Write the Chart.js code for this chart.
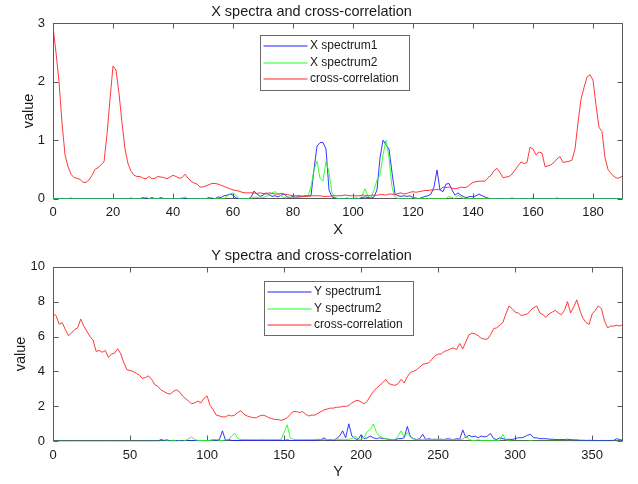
<!DOCTYPE html>
<html>
<head>
<meta charset="utf-8">
<script src="https://cdn.jsdelivr.net/npm/chart.js@4.4.1/dist/chart.umd.min.js"></script>
<style>
  body { margin: 0; background: #fff; }
  .panel { position: absolute; left: 0; width: 638px; height: 242px; }
</style>
</head>
<body>
<div class="panel" style="top:0"><canvas id="chartX" width="638" height="242"></canvas></div>
<div class="panel" style="top:242px"><canvas id="chartY" width="638" height="242"></canvas></div>
<script>
// ---- X subplot, one sample per unit, x = 0..190
const xStep = 1;
const xTicks = [0, 20, 40, 60, 80, 100, 120, 140, 160, 180];
const xValueTicks = [0, 1, 2, 3];
const xSpectrum1 = [
  0,0,0,0,0,0,0.01,0,0,0,
  0,0,0,0,0,0,0,0,0,0,
  0,0,0,0,0,0,0.01,0,0,0,
  0.02,0,0,0.02,0,0,0.02,0,0,0,
  0,0,0,0.01,0,0,0,0,0,0,
  0,0,0.02,0,0,0.03,0.02,0.05,0.06,0.08,
  0.06,0.01,0,0,0,0,0.02,0.13,0.08,0.04,
  0.06,0.1,0.07,0.04,0.05,0.03,0.06,0.08,0.03,0.02,
  0.04,0.02,0.05,0.04,0.05,0.05,0.05,0.5,0.9,0.96,
  0.96,0.85,0.15,0.03,0.01,0,0,0,0.01,0,
  0,0.01,0,0.02,0.03,0.02,0.01,0.03,0.15,0.7,
  1.0,0.92,0.85,0.45,0.08,0.05,0.04,0.05,0.04,0.05,
  0.02,0.01,0,0.02,0.04,0.05,0.08,0.2,0.49,0.15,
  0.12,0.25,0.26,0.15,0.06,0.1,0.06,0.03,0.02,0.04,
  0.03,0.05,0.08,0.05,0.03,0.01,0,0,0,0,
  0,0,0,0.01,0,0,0,0,0,0,
  0.01,0,0,0,0,0,0,0,0.01,0,
  0,0,0,0,0,0,0,0,0,0,
  0,0,0,0,0,0,0,0,0,0,0
];
const xSpectrum2 = [
  0,0,0,0,0,0,0,0,0,0,
  0,0,0,0,0,0,0,0,0,0,
  0,0,0,0,0,0,0,0,0,0,
  0,0.03,0,0,0,0,0,0,0,0,
  0,0,0,0,0.03,0,0,0,0,0,
  0,0,0,0.02,0,0,0,0,0.04,0.08,
  0.1,0.06,0,0,0,0,0,0.03,0.02,0.03,
  0.02,0.04,0.06,0.1,0.12,0.08,0.05,0.02,0.03,0.02,
  0.03,0.02,0.02,0.03,0.04,0.05,0.2,0.5,0.64,0.35,
  0.3,0.64,0.45,0.1,0.02,0,0,0,0,0,
  0,0,0,0.05,0.17,0.04,0.02,0.15,0.32,0.4,
  0.75,1.0,0.7,0.2,0.03,0,0,0,0,0,
  0.02,0,0,0,0,0,0,0,0,0,
  0,0,0.04,0.02,0,0.06,0.03,0,0,0,
  0,0,0,0,0,0,0,0,0,0,
  0,0,0,0,0,0,0,0,0,0,
  0,0,0,0,0,0,0,0,0,0,
  0,0,0,0,0,0,0,0,0,0,
  0,0,0,0,0,0,0,0,0,0,0
];
const xCrossCorr = [
  2.95,2.5,2.0,1.3,0.75,0.55,0.42,0.36,0.35,0.33,
  0.28,0.28,0.32,0.4,0.5,0.53,0.58,0.63,1.1,1.7,
  2.27,2.2,1.8,1.3,0.85,0.6,0.47,0.4,0.38,0.38,
  0.35,0.34,0.38,0.34,0.35,0.38,0.37,0.36,0.34,0.37,
  0.4,0.38,0.35,0.36,0.42,0.35,0.3,0.27,0.25,0.2,
  0.2,0.22,0.24,0.26,0.26,0.25,0.23,0.21,0.19,0.17,
  0.15,0.14,0.13,0.11,0.1,0.1,0.1,0.1,0.09,0.1,
  0.09,0.08,0.1,0.09,0.08,0.08,0.09,0.08,0.07,0.06,
  0.05,0.05,0.05,0.04,0.04,0.04,0.05,0.05,0.05,0.05,
  0.04,0.04,0.04,0.05,0.05,0.05,0.05,0.06,0.06,0.05,
  0.05,0.05,0.05,0.06,0.06,0.05,0.06,0.06,0.06,0.07,
  0.07,0.06,0.08,0.08,0.07,0.09,0.1,0.08,0.09,0.11,
  0.12,0.11,0.12,0.13,0.14,0.14,0.15,0.15,0.16,0.15,
  0.2,0.19,0.2,0.18,0.17,0.18,0.2,0.19,0.2,0.24,
  0.28,0.29,0.3,0.3,0.3,0.36,0.4,0.48,0.52,0.45,
  0.36,0.37,0.38,0.42,0.49,0.56,0.63,0.6,0.62,0.88,
  0.85,0.75,0.8,0.78,0.55,0.56,0.58,0.62,0.68,0.72,
  0.62,0.63,0.64,0.66,0.85,1.3,1.7,1.9,2.08,2.12,
  2.03,1.6,1.22,1.15,0.7,0.5,0.43,0.38,0.35,0.36,0.4
];

// ---- Y subplot, one sample every 2 units, x = 0..370
const yStep = 2;
const yTicks = [0, 50, 100, 150, 200, 250, 300, 350];
const yValueTicks = [0, 2, 4, 6, 8, 10];
const ySpectrum1 = [
  0,0,0,0,0,0,0,0,0,0,
  0,0,0,0,0,0,0,0,0,0,
  0,0,0,0,0,0,0,0,0,0,
  0,0,0,0,0,0.1,0.05,0.08,0.02,0,
  0.03,0.05,0.02,0.04,0.05,0.02,0.05,0.03,0.05,0.04,
  0.02,0.05,0.08,0.05,0.1,0.6,0.05,0.1,0.05,0.05,
  0.05,0.04,0.05,0.06,0.05,0.04,0.05,0.05,0.06,0.05,
  0.05,0.04,0.05,0.05,0.06,0.05,0.08,0.05,0.04,0.05,
  0.05,0.04,0.06,0.05,0.05,0.06,0.08,0.1,0.2,0.05,
  0.1,0.05,0.15,0.3,0.6,0.2,1.0,0.3,0.15,0.1,
  0.38,0.15,0.2,0.3,0.2,0.15,0.2,0.15,0.15,0.1,
  0.1,0.08,0.15,0.15,0.2,0.85,0.25,0.15,0.1,0.15,
  0.4,0.1,0.15,0.1,0.12,0.1,0.12,0.1,0.15,0.12,
  0.1,0.15,0.12,0.65,0.2,0.35,0.25,0.3,0.2,0.3,
  0.25,0.3,0.45,0.15,0.1,0.2,0.15,0.1,0.12,0.1,
  0.15,0.2,0.2,0.25,0.35,0.4,0.2,0.2,0.15,0.15,
  0.15,0.12,0.12,0.1,0.1,0.1,0.1,0.12,0.1,0.08,
  0.08,0.06,0.06,0.05,0.06,0.05,0.05,0.04,0.05,0.05,
  0.04,0.05,0.05,0.15,0.1,0.04
];
const ySpectrum2 = [
  0,0,0,0,0,0,0,0,0,0,
  0,0,0,0,0,0,0,0,0,0,
  0,0,0,0,0,0,0,0,0,0,
  0,0,0,0,0,0,0,0.03,0,0.08,
  0,0.02,0,0.05,0.15,0.25,0.1,0.05,0.04,0.05,
  0.05,0.05,0.08,0.1,0.05,0.05,0.08,0.1,0.3,0.45,
  0.15,0.1,0.1,0.1,0.1,0.1,0.1,0.1,0.12,0.1,
  0.1,0.1,0.1,0.1,0.1,0.5,0.95,0.2,0.1,0.1,
  0.1,0.1,0.1,0.1,0.1,0.1,0.12,0.1,0.1,0.1,
  0.1,0.1,0.12,0.1,0.12,0.1,0.12,0.15,0.3,0.15,
  0.1,0.25,0.55,0.7,1.0,0.5,0.3,0.2,0.15,0.12,
  0.1,0.1,0.3,0.6,0.2,0.5,0.3,0.15,0.1,0.1,
  0.1,0.1,0.1,0.1,0.1,0.1,0.1,0.1,0.1,0.1,
  0.1,0.1,0.1,0.12,0.3,0.1,0.05,0.05,0.08,0.05,
  0.05,0.05,0.05,0.05,0.04,0.05,0.4,0.1,0.03,0,
  0,0,0,0,0,0.03,0,0,0,0,
  0,0,0,0,0,0,0,0,0,0,
  0,0,0,0,0,0,0,0,0,0,
  0,0,0,0,0,0
];
const yCrossCorr = [
  7.3,7.2,6.7,6.8,6.4,6.05,6.2,6.4,6.5,7.0,
  6.6,6.3,6.0,5.8,5.15,5.2,5.1,5.2,4.8,5.0,
  5.05,5.3,5.0,4.5,4.1,4.05,4.0,3.9,3.8,3.6,
  3.65,3.75,3.55,3.25,3.15,2.95,2.85,2.75,2.7,2.85,
  2.95,2.85,2.6,2.45,2.3,2.15,2.2,2.3,2.2,2.45,
  2.6,2.05,1.8,1.5,1.45,1.4,1.4,1.5,1.45,1.5,
  1.65,1.75,1.55,1.45,1.4,1.35,1.35,1.45,1.5,1.45,
  1.35,1.3,1.25,1.25,1.2,1.25,1.35,1.55,1.7,1.7,
  1.65,1.7,1.55,1.45,1.5,1.5,1.6,1.7,1.8,1.85,
  1.9,1.9,1.95,1.95,2.0,2.0,2.05,2.2,2.3,2.35,
  2.25,2.15,2.3,2.6,2.85,3.05,3.2,3.35,3.55,3.3,
  3.25,3.2,3.3,3.55,3.35,3.7,3.95,4.0,4.1,4.25,
  4.4,4.45,4.5,4.7,4.9,5.0,5.0,5.15,5.2,5.3,
  5.35,5.25,5.6,5.3,5.7,6.1,6.2,6.15,6.05,5.9,
  5.85,5.85,6.1,6.45,6.5,6.65,6.8,7.3,7.75,7.6,
  7.4,7.35,7.2,7.25,7.3,7.5,7.65,7.75,7.35,7.25,
  7.1,7.3,7.4,7.5,7.35,7.25,7.5,8.0,7.35,7.7,
  8.1,7.5,7.05,6.8,6.7,7.3,7.5,7.75,7.6,6.9,
  6.5,6.6,6.6,6.65,6.6,6.7
];

const FONT = '"Liberation Sans", Arial, Helvetica, sans-serif';
const TEXT = '#1a1a1a';
const COLORS = ['#1f1fff', '#1fff1f', '#ff2424'];

function toPoints(values, step) {
  return values.map((v, i) => ({ x: i * step, y: v }));
}

// MATLAB-like box with inward ticks on all four sides
const axesBox = {
  id: 'axesBox',
  beforeDatasetsDraw(chart) {
    const { ctx, chartArea: a, scales } = chart;
    const L = Math.round(a.left) + 0.5, R = Math.round(a.right) - 0.5;
    const T = Math.round(a.top) + 0.5, B = Math.round(a.bottom) - 0.5;
    ctx.save();
    ctx.strokeStyle = '#5a5a5a';
    ctx.lineWidth = 1;
    ctx.strokeRect(L, T, R - L, B - T);
    ctx.beginPath();
    scales.x.ticks.forEach(t => {
      const px = Math.round(scales.x.getPixelForValue(t.value)) + 0.5;
      ctx.moveTo(px, B); ctx.lineTo(px, B - 5);
      ctx.moveTo(px, T); ctx.lineTo(px, T + 5);
    });
    scales.y.ticks.forEach(t => {
      const py = Math.round(scales.y.getPixelForValue(t.value)) + 0.5;
      ctx.moveTo(L, py); ctx.lineTo(L + 5, py);
      ctx.moveTo(R, py); ctx.lineTo(R - 5, py);
    });
    ctx.stroke();
    ctx.restore();
  }
};

// boxed legend placed inside the plot, like MATLAB's 'north' legend
const boxLegend = {
  id: 'boxLegend',
  afterDraw(chart, args, o) {
    const ctx = chart.ctx;
    ctx.save();
    ctx.fillStyle = '#fff';
    ctx.fillRect(o.left, o.top, o.width, o.height);
    ctx.strokeStyle = '#6a6a6a';
    ctx.lineWidth = 1;
    ctx.strokeRect(o.left + 0.5, o.top + 0.5, o.width, o.height);
    ctx.font = '12px ' + FONT;
    ctx.textBaseline = 'middle';
    ctx.textAlign = 'left';
    o.names.forEach((name, i) => {
      const yy = Math.round(o.top + 11 + i * 16.7);
      ctx.beginPath();
      ctx.strokeStyle = COLORS[i];
      ctx.lineWidth = 1.2;
      ctx.moveTo(o.left + 3.5, yy);
      ctx.lineTo(o.left + 47.5, yy);
      ctx.stroke();
      ctx.fillStyle = TEXT;
      ctx.fillText(name, o.left + 50, yy);
    });
    ctx.restore();
  }
};

function makeChart(id, cfg) {
  const line = (label, values, color, order) => ({
    label, data: toPoints(values, cfg.step), borderColor: color, borderWidth: 0.9,
    pointRadius: 0, tension: 0, fill: false, order
  });
  return new Chart(document.getElementById(id), {
    type: 'line',
    data: {
      datasets: [
        line(cfg.names[0], cfg.s1, COLORS[0], 3),
        line(cfg.names[1], cfg.s2, COLORS[1], 2),
        line(cfg.names[2], cfg.cc, COLORS[2], 1)
      ]
    },
    options: {
      responsive: false,
      animation: false,
      layout: { padding: { left: 0, right: 15, top: 0, bottom: 0 } },
      plugins: {
        legend: { display: false },
        tooltip: { enabled: false },
        title: {
          display: true, text: cfg.title, color: TEXT,
          font: { family: FONT, size: 14.5, weight: 'normal' },
          padding: cfg.titlePad
        },
        boxLegend: Object.assign({ names: cfg.names }, cfg.legend)
      },
      scales: {
        x: {
          type: 'linear', min: 0, max: cfg.xMax,
          grid: { display: false, drawTicks: false },
          border: { display: false },
          afterBuildTicks: s => { s.ticks = cfg.xTicks.map(v => ({ value: v })); },
          afterFit: s => { s.height = cfg.xAxisHeight; },
          ticks: { color: TEXT, font: { family: FONT, size: 13 }, padding: 6, maxRotation: 0, autoSkip: false },
          title: { display: true, text: cfg.xLabel, color: TEXT, font: { family: FONT, size: 14.5 }, padding: { top: 0, bottom: 3 } }
        },
        y: {
          min: 0, max: cfg.yMax,
          grid: { display: false, drawTicks: false },
          border: { display: false },
          afterBuildTicks: s => { s.ticks = cfg.yTicks.map(v => ({ value: v })); },
          afterFit: s => { s.width = 53; },
          ticks: { color: TEXT, font: { family: FONT, size: 13 }, padding: 8 },
          title: { display: true, text: 'value', color: TEXT, font: { family: FONT, size: 14.5 }, padding: { top: cfg.yTitlePad, bottom: 0 } }
        }
      }
    },
    plugins: [axesBox, boxLegend]
  });
}

makeChart('chartX', {
  step: xStep, s1: xSpectrum1, s2: xSpectrum2, cc: xCrossCorr,
  names: ['X spectrum1', 'X spectrum2', 'cross-correlation'],
  title: 'X spectra and cross-correlation', xLabel: 'X',
  xMax: 190, yMax: 3, xTicks: xTicks, yTicks: xValueTicks,
  titlePad: { top: 3, bottom: 2.9 }, xAxisHeight: 43.3, yTitlePad: 20,
  legend: { left: 260, top: 35, width: 149, height: 55 }
});

makeChart('chartY', {
  step: yStep, s1: ySpectrum1, s2: ySpectrum2, cc: yCrossCorr,
  names: ['Y spectrum1', 'Y spectrum2', 'cross-correlation'],
  title: 'Y spectra and cross-correlation', xLabel: 'Y',
  xMax: 370, yMax: 10, xTicks: yTicks, yTicks: yValueTicks,
  titlePad: { top: 5, bottom: 2.3 }, xAxisHeight: 42.7, yTitlePad: 12,
  legend: { left: 264, top: 39, width: 149, height: 54 }
});
</script>
</body>
</html>
